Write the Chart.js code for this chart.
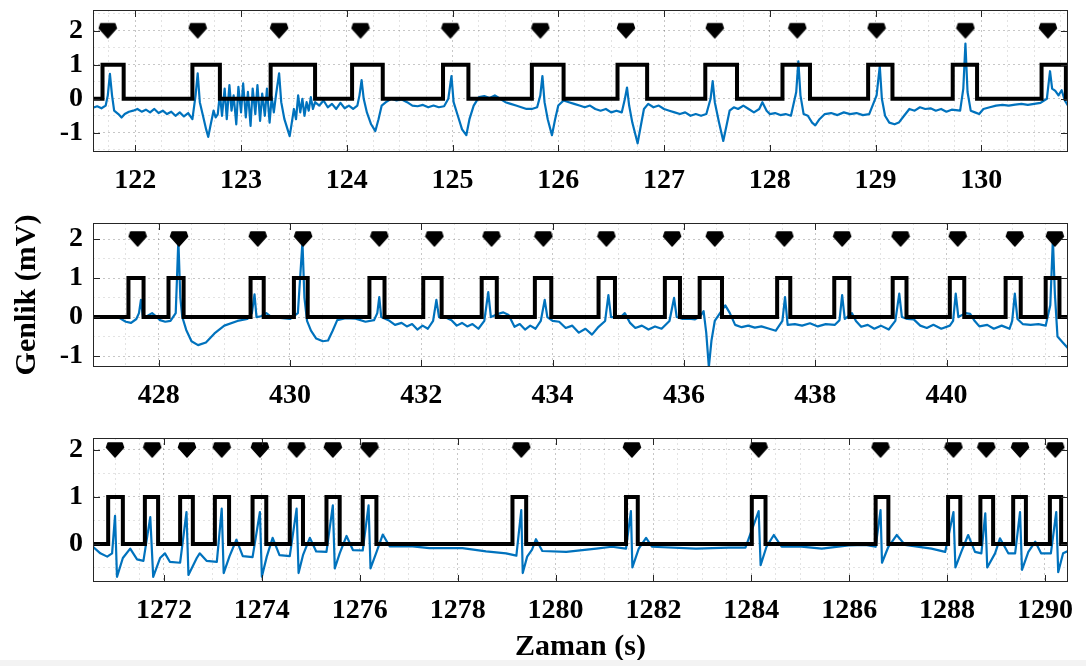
<!DOCTYPE html>
<html>
<head>
<meta charset="utf-8">
<script src="https://cdn.jsdelivr.net/npm/chart.js@4.4.1/dist/chart.umd.min.js"></script>
<style>
html,body{margin:0;padding:0;background:#fff;width:1086px;height:666px;overflow:hidden;position:relative}
canvas{position:absolute;left:0}
#strip{position:absolute;left:0;top:660px;width:1086px;height:6px;background:#f3f3f3}
</style>
</head>
<body>
<canvas id="c1" width="1086" height="205" style="top:0px"></canvas>
<canvas id="c2" width="1086" height="215" style="top:205px"></canvas>
<canvas id="c3" width="1086" height="246" style="top:420px"></canvas>
<div id="strip"></div>
<script>
// ---------------- DATA ----------------
// Panel 1 (122-130 s)
const p1Range = [121.6, 130.82];
const p1YRange = [-1.565, 2.61];
const p1XTicks = [122, 123, 124, 125, 126, 127, 128, 129, 130];
const p1YTicks = [-1, 0, 1, 2];
const p1Markers = [121.74, 122.59, 123.36, 124.13, 124.98, 125.83, 126.64, 127.48, 128.26, 129.01, 129.85, 130.63];
const p1Rise = [121.69, 122.54, 123.28, 124.05, 124.91, 125.75, 126.56, 127.39, 128.12, 128.93, 129.73, 130.57];
const p1Fall = [121.89, 122.80, 123.70, 124.34, 125.15, 126.05, 126.84, 127.69, 128.38, 129.16, 129.96, 130.80];
const p1Ecg = [
[121.60,-0.26],[121.64,-0.22],[121.68,-0.28],[121.72,-0.20],[121.74,0.10],[121.76,0.73],[121.78,0.10],[121.80,-0.35],
[121.84,-0.45],[121.87,-0.55],[121.90,-0.45],[121.94,-0.38],[121.98,-0.35],[122.02,-0.30],[122.06,-0.38],[122.10,-0.32],
[122.14,-0.40],[122.18,-0.30],[122.22,-0.42],[122.26,-0.35],[122.30,-0.45],[122.34,-0.38],[122.38,-0.50],[122.42,-0.40],
[122.46,-0.52],[122.50,-0.42],[122.54,-0.60],[122.57,0.10],[122.59,0.75],[122.61,-0.10],[122.64,-0.50],[122.67,-0.90],
[122.69,-1.12],[122.71,-0.80],[122.74,-0.35],[122.76,-0.55],[122.78,-0.45],[122.80,0.15],[122.82,-0.50],[122.845,0.30],
[122.865,-0.60],[122.89,0.40],[122.91,-0.35],[122.93,0.10],[122.955,-0.75],[122.975,0.35],[123.00,-0.40],[123.02,0.45],
[123.045,-0.55],[123.065,0.20],[123.09,-0.80],[123.11,0.30],[123.135,-0.45],[123.155,0.40],[123.18,-0.65],[123.20,0.15],
[123.225,-0.50],[123.245,0.30],[123.27,-0.70],[123.29,0.05],[123.31,-0.40],[123.33,0.10],
[123.36,0.75],[123.38,-0.10],[123.41,-0.60],[123.44,-0.90],[123.46,-1.10],[123.48,-0.70],[123.50,-0.30],[123.52,-0.60],
[123.54,0.10],[123.56,-0.40],[123.58,0.00],[123.60,-0.50],[123.62,-0.10],[123.64,-0.35],[123.66,0.05],[123.68,-0.30],
[123.70,-0.10],[123.74,-0.20],[123.78,-0.05],[123.82,-0.25],[123.86,-0.15],[123.90,-0.30],[123.94,-0.12],[123.98,-0.28],
[124.02,-0.20],[124.06,-0.30],[124.10,-0.20],[124.12,0.10],[124.14,0.55],[124.16,0.00],[124.19,-0.40],[124.23,-0.75],
[124.27,-0.95],[124.30,-0.60],[124.33,-0.20],[124.37,-0.10],[124.42,0.00],[124.47,-0.05],[124.52,-0.02],[124.57,-0.10],
[124.62,-0.20],[124.67,-0.22],[124.72,-0.18],[124.77,-0.25],[124.82,-0.20],[124.87,-0.25],[124.92,-0.22],[124.96,0.00],
[124.99,0.67],[125.01,-0.10],[125.05,-0.50],[125.09,-0.90],[125.13,-1.07],[125.16,-0.60],[125.20,-0.20],[125.25,0.05],
[125.30,0.08],[125.35,0.02],[125.40,0.10],[125.45,0.00],[125.50,-0.10],[125.55,-0.15],[125.60,-0.20],[125.65,-0.25],
[125.70,-0.30],[125.75,-0.30],[125.80,-0.25],[125.83,0.10],[125.85,0.67],[125.87,-0.10],[125.90,-0.60],[125.94,-1.07],
[125.97,-0.60],[126.00,-0.20],[126.05,-0.05],[126.10,-0.10],[126.15,-0.15],[126.20,-0.20],[126.25,-0.25],[126.30,-0.20],
[126.35,-0.30],[126.40,-0.35],[126.45,-0.30],[126.50,-0.40],[126.55,-0.35],[126.60,-0.40],[126.63,0.00],[126.65,0.33],
[126.67,-0.20],[126.70,-0.70],[126.75,-1.31],[126.78,-0.80],[126.81,-0.30],[126.85,-0.15],[126.90,-0.25],[126.95,-0.20],
[127.00,-0.30],[127.05,-0.35],[127.10,-0.40],[127.15,-0.45],[127.20,-0.40],[127.25,-0.50],[127.30,-0.45],[127.35,-0.50],
[127.40,-0.45],[127.44,0.00],[127.46,0.52],[127.48,-0.10],[127.52,-0.70],[127.56,-1.24],[127.59,-0.80],[127.62,-0.35],
[127.66,-0.25],[127.70,-0.30],[127.75,-0.20],[127.80,-0.30],[127.85,-0.40],[127.90,-0.30],[127.93,-0.10],[127.97,-0.35],
[128.00,-0.45],[128.05,-0.42],[128.10,-0.48],[128.15,-0.45],[128.20,-0.50],[128.25,0.20],[128.27,1.10],[128.29,0.10],
[128.32,-0.45],[128.36,-0.50],[128.40,-0.70],[128.43,-0.78],[128.47,-0.60],[128.52,-0.45],[128.58,-0.42],[128.64,-0.48],
[128.70,-0.40],[128.76,-0.45],[128.82,-0.42],[128.88,-0.48],[128.94,-0.45],[129.01,0.10],[129.04,0.96],[129.06,0.00],
[129.09,-0.50],[129.13,-0.70],[129.18,-0.75],[129.22,-0.70],[129.27,-0.50],[129.32,-0.30],[129.37,-0.35],[129.42,-0.25],
[129.47,-0.30],[129.52,-0.28],[129.57,-0.35],[129.62,-0.30],[129.67,-0.38],[129.72,-0.32],[129.80,-0.35],[129.83,0.30],
[129.85,1.62],[129.87,0.20],[129.90,-0.35],[129.94,-0.40],[129.98,-0.45],[130.02,-0.30],[130.08,-0.25],[130.14,-0.20],
[130.20,-0.18],[130.26,-0.20],[130.32,-0.17],[130.38,-0.15],[130.44,-0.18],[130.50,-0.15],[130.56,-0.12],[130.62,0.00],
[130.65,0.81],[130.67,0.30],[130.70,0.23],[130.73,0.10],[130.76,0.25],[130.79,-0.05],[130.82,-0.20]
];

// Panel 2 (428-440 s)
const p2Range = [427.0, 441.85];
const p2YRange = [-1.28, 2.41];
const p2XTicks = [428, 430, 432, 434, 436, 438, 440];
const p2YTicks = [-1, 0, 1, 2];
const p2Markers = [427.68, 428.31, 429.51, 430.20, 431.36, 432.20, 433.07, 433.86, 434.82, 435.82, 436.47, 437.53, 438.41, 439.30, 440.17, 441.04, 441.65];
const p2Rise = [427.54, 428.15, 429.40, 430.06, 431.21, 432.03, 432.92, 433.73, 434.70, 435.71, 436.24, 437.42, 438.29, 439.18, 440.05, 440.90, 441.51];
const p2Fall = [427.77, 428.38, 429.60, 430.27, 431.44, 432.31, 433.15, 433.98, 434.95, 435.94, 436.58, 437.62, 438.52, 439.39, 440.27, 441.13, 441.72];
const p2Ecg = [
[427.00,0.00],[427.20,0.00],[427.40,-0.02],[427.50,-0.12],[427.58,-0.15],[427.66,-0.05],[427.70,0.10],[427.73,0.44],
[427.76,0.00],[427.82,0.02],[427.90,0.10],[427.96,0.02],[428.02,-0.08],[428.10,-0.12],[428.18,-0.10],[428.26,0.10],
[428.30,1.97],[428.33,0.50],[428.36,0.00],[428.42,-0.33],[428.50,-0.62],[428.60,-0.72],[428.72,-0.65],[428.85,-0.42],
[429.00,-0.22],[429.20,-0.10],[429.35,-0.05],[429.42,0.10],[429.46,0.58],[429.49,0.00],[429.56,0.02],[429.64,0.10],
[429.72,0.00],[429.85,-0.02],[430.00,-0.05],[430.12,0.10],[430.19,1.92],[430.22,0.50],[430.26,-0.10],[430.32,-0.35],
[430.40,-0.55],[430.50,-0.62],[430.58,-0.60],[430.65,-0.35],[430.72,-0.08],[430.85,-0.03],[431.00,-0.04],[431.15,-0.12],
[431.28,-0.08],[431.33,0.10],[431.36,0.51],[431.39,0.00],[431.50,-0.08],[431.60,-0.20],[431.70,-0.15],[431.78,-0.24],
[431.86,-0.18],[431.94,-0.32],[432.02,-0.22],[432.10,-0.30],[432.18,-0.10],[432.23,0.44],[432.27,0.00],[432.38,-0.02],
[432.46,-0.08],[432.54,-0.22],[432.62,-0.15],[432.70,-0.24],[432.78,-0.18],[432.87,-0.30],[432.96,-0.10],[433.02,0.64],
[433.06,0.00],[433.17,0.08],[433.25,0.12],[433.33,0.05],[433.42,-0.25],[433.50,-0.18],[433.58,-0.32],[433.66,-0.22],
[433.74,-0.30],[433.82,-0.10],[433.88,0.44],[433.92,0.00],[434.00,-0.10],[434.10,-0.12],[434.20,-0.28],[434.30,-0.22],
[434.40,-0.40],[434.50,-0.30],[434.60,-0.45],[434.70,-0.25],[434.80,-0.10],[434.85,0.56],[434.89,0.00],[434.97,0.00],
[435.05,0.02],[435.10,0.10],[435.18,-0.15],[435.26,-0.28],[435.36,-0.22],[435.46,-0.32],[435.56,-0.24],[435.66,-0.30],
[435.78,-0.10],[435.85,0.49],[435.89,0.00],[435.98,-0.05],[436.08,-0.04],[436.17,-0.06],[436.25,0.02],[436.30,0.15],
[436.34,-0.40],[436.38,-1.28],[436.42,-0.60],[436.47,-0.10],[436.55,0.10],[436.63,0.30],[436.70,0.10],[436.78,-0.20],
[436.88,-0.26],[436.98,-0.22],[437.08,-0.27],[437.18,-0.24],[437.30,-0.30],[437.40,-0.35],[437.50,-0.10],[437.54,0.51],
[437.58,-0.20],[437.69,-0.18],[437.80,-0.22],[437.92,-0.16],[438.04,-0.24],[438.16,-0.18],[438.30,-0.20],[438.37,-0.08],
[438.41,0.56],[438.45,-0.05],[438.56,0.10],[438.62,-0.10],[438.70,-0.25],[438.80,-0.20],[438.90,-0.30],[439.00,-0.22],
[439.12,-0.32],[439.22,-0.10],[439.28,0.60],[439.32,0.00],[439.40,-0.05],[439.50,-0.06],[439.60,-0.22],[439.70,-0.28],
[439.80,-0.20],[439.92,-0.30],[440.05,-0.22],[440.10,-0.10],[440.14,0.60],[440.18,0.00],[440.29,0.10],[440.36,0.08],
[440.42,-0.08],[440.50,-0.24],[440.62,-0.20],[440.72,-0.30],[440.84,-0.22],[440.96,-0.30],[441.00,-0.10],[441.04,0.60],
[441.08,-0.05],[441.16,-0.18],[441.28,-0.20],[441.40,-0.18],[441.51,-0.22],[441.58,0.30],[441.62,2.00],[441.65,0.60],
[441.69,-0.50],[441.77,-0.65],[441.85,-0.80]
];

// Panel 3 (1272-1290 s)
const p3Range = [1270.55, 1290.47];
const p3YRange = [-0.81, 2.255];
const p3XTicks = [1272, 1274, 1276, 1278, 1280, 1282, 1284, 1286, 1288, 1290];
const p3YTicks = [0, 1, 2];
const p3Markers = [1271.00, 1271.76, 1272.47, 1273.18, 1273.96, 1274.71, 1275.45, 1276.20, 1279.30, 1281.56, 1284.15, 1286.64, 1288.13, 1288.80, 1289.49, 1290.21];
const p3Rise = [1270.86, 1271.61, 1272.33, 1273.04, 1273.81, 1274.57, 1275.32, 1276.06, 1279.12, 1281.44, 1284.01, 1286.54, 1288.02, 1288.68, 1289.35, 1290.10];
const p3Fall = [1271.16, 1271.88, 1272.59, 1273.33, 1274.09, 1274.84, 1275.59, 1276.34, 1279.40, 1281.68, 1284.29, 1286.80, 1288.27, 1288.94, 1289.61, 1290.33];
const p3Ecg = [
[1270.55,-0.06],[1270.70,-0.20],[1270.84,-0.27],[1270.94,-0.20],[1271.00,0.60],[1271.04,-0.70],[1271.16,-0.30],[1271.31,-0.10],
[1271.45,-0.33],[1271.58,-0.36],[1271.72,0.57],[1271.78,-0.70],[1271.92,-0.30],[1272.02,-0.20],[1272.12,-0.38],[1272.33,-0.40],
[1272.46,0.68],[1272.50,-0.66],[1272.67,-0.30],[1272.73,-0.20],[1272.87,-0.36],[1273.08,-0.38],[1273.18,0.75],[1273.22,-0.62],
[1273.34,-0.26],[1273.48,0.09],[1273.61,-0.26],[1273.81,-0.28],[1273.96,0.68],[1274.00,-0.70],[1274.10,-0.27],[1274.22,0.13],
[1274.36,-0.24],[1274.57,-0.26],[1274.71,0.75],[1274.75,-0.62],[1274.84,-0.24],[1274.98,0.13],[1275.11,-0.16],[1275.32,-0.17],
[1275.45,0.82],[1275.49,-0.52],[1275.59,-0.20],[1275.73,0.17],[1275.86,-0.13],[1276.06,-0.14],[1276.18,0.82],[1276.22,-0.52],
[1276.34,-0.18],[1276.47,0.20],[1276.61,-0.05],[1277.08,-0.05],[1277.42,-0.09],[1278.10,-0.09],[1278.58,-0.16],[1278.99,-0.20],
[1279.20,-0.25],[1279.30,0.72],[1279.33,-0.62],[1279.42,-0.27],[1279.52,-0.12],[1279.60,0.10],[1279.73,-0.15],[1280.22,-0.17],
[1280.83,-0.10],[1281.15,-0.06],[1281.44,-0.10],[1281.54,0.70],[1281.57,-0.50],[1281.70,-0.10],[1281.85,0.13],[1281.97,-0.06],
[1282.87,-0.10],[1283.54,-0.08],[1283.88,-0.08],[1284.15,0.70],[1284.19,-0.45],[1284.31,-0.06],[1284.46,0.19],[1284.62,-0.06],
[1284.97,-0.05],[1285.44,-0.10],[1285.99,-0.03],[1286.33,-0.02],[1286.54,-0.06],[1286.64,0.72],[1286.67,-0.40],[1286.80,-0.06],
[1286.97,0.19],[1287.14,-0.02],[1287.68,-0.10],[1287.96,-0.17],[1288.13,0.68],[1288.17,-0.50],[1288.29,-0.17],[1288.43,0.19],
[1288.57,-0.17],[1288.70,-0.20],[1288.78,0.65],[1288.82,-0.50],[1288.98,-0.20],[1289.08,0.12],[1289.25,-0.20],[1289.39,-0.20],
[1289.49,0.68],[1289.53,-0.55],[1289.66,-0.17],[1289.80,0.05],[1289.92,-0.20],[1290.12,-0.20],[1290.23,0.68],[1290.27,-0.60],
[1290.37,-0.20],[1290.47,-0.15]
];

const yTitle = 'Genlik (mV)';
const xTitle = 'Zaman (s)';

// ---------------- RENDERING ----------------
const FONT = 'Liberation Serif';
const BLUE = '#0072BD';

// downward pentagon marker
const marker = document.createElement('canvas');
marker.width = 20; marker.height = 18;
(function(){
  const g = marker.getContext('2d');
  g.fillStyle = '#000'; g.strokeStyle = '#000'; g.lineWidth = 1.5; g.lineJoin = 'round';
  g.beginPath();
  g.moveTo(3,2); g.lineTo(17,2); g.lineTo(18.5,6.5); g.lineTo(10,16); g.lineTo(1.5,6.5); g.closePath();
  g.fill(); g.stroke();
})();

function buildTicks(min, max, step) {
  const out = [];
  const start = Math.ceil(min / step - 1e-9);
  for (let i = start; i * step <= max + 1e-9; i++) {
    out.push({ value: Math.round(i * step * 1000) / 1000 });
  }
  return out;
}
function isIn(list, v) { return list.some(m => Math.abs(m - v) < 1e-6); }

function square(rise, fall, r) {
  const pts = [{ x: r[0], y: 0 }];
  for (let i = 0; i < rise.length; i++) {
    pts.push({ x: rise[i], y: 0 }, { x: rise[i], y: 1 }, { x: fall[i], y: 1 }, { x: fall[i], y: 0 });
  }
  pts.push({ x: r[1], y: 0 });
  return pts;
}

const framePlugin = {
  id: 'frame',
  afterDraw(chart, args, opts) {
    const { ctx, chartArea: a } = chart;
    const xs = chart.scales.x, ys = chart.scales.y;
    ctx.save();
    ctx.strokeStyle = '#262626';
    ctx.lineWidth = 1;
    ctx.beginPath();
    const L = 7;
    opts.xMajor.forEach(v => {
      const p = Math.round(xs.getPixelForValue(v)) + 0.5;
      ctx.moveTo(p, a.bottom); ctx.lineTo(p, a.bottom - L);
      ctx.moveTo(p, a.top); ctx.lineTo(p, a.top + L);
    });
    opts.yMajor.forEach(v => {
      const p = Math.round(ys.getPixelForValue(v)) + 0.5;
      ctx.moveTo(a.left, p); ctx.lineTo(a.left + L, p);
      ctx.moveTo(a.right, p); ctx.lineTo(a.right - L, p);
    });
    ctx.stroke();
    ctx.strokeRect(Math.round(a.left) + 0.5, Math.round(a.top) + 0.5, Math.round(a.right - a.left) - 1, Math.round(a.bottom - a.top) - 1);
    ctx.restore();
  }
};

function makePanel(id, cfg) {
  const tickFont = { family: FONT, size: 28, weight: 'bold' };
  const titleFont = { family: FONT, size: 30, weight: 'bold' };
  const gridColor = (major) => (c) => (c.tick && isIn(major, c.tick.value)) ? 'rgba(0,0,0,0.22)' : 'rgba(0,0,0,0.11)';
  new Chart(document.getElementById(id), {
    type: 'line',
    data: {
      datasets: [
        { data: cfg.markers.map(t => ({ x: t, y: 2 })), showLine: false, pointStyle: marker, pointRadius: 9, pointHoverRadius: 9, order: 0, clip: false },
        { data: square(cfg.rise, cfg.fall, cfg.range), borderColor: '#000', borderWidth: 4, pointRadius: 0, tension: 0, borderJoinStyle: 'miter', order: 1 },
        { data: cfg.ecg.map(p => ({ x: p[0], y: p[1] })), borderColor: BLUE, borderWidth: 2.2, pointRadius: 0, tension: 0, borderJoinStyle: 'round', order: 2 }
      ]
    },
    options: {
      responsive: false,
      animation: false,
      events: [],
      layout: { padding: { top: cfg.padTop, right: 18, left: 0, bottom: 0 } },
      plugins: { legend: { display: false }, tooltip: { enabled: false }, frame: { xMajor: cfg.xTicks, yMajor: cfg.yTicks } },
      scales: {
        x: {
          type: 'linear', min: cfg.range[0], max: cfg.range[1],
          afterBuildTicks: s => { s.ticks = buildTicks(cfg.range[0], cfg.range[1], cfg.xMinor); },
          afterFit: s => { s.height = cfg.xHeight; s.paddingLeft = 0; s.paddingRight = 0; },
          ticks: { autoSkip: false, maxRotation: 0, padding: 12, font: tickFont, color: '#000',
                   callback: v => isIn(cfg.xTicks, v) ? String(Math.round(v)) : '' },
          grid: { drawTicks: false, color: gridColor(cfg.xTicks), lineWidth: 1 },
          border: { display: false, dash: [2, 3] },
          title: cfg.xTitle ? { display: true, text: cfg.xTitle, font: titleFont, color: '#000', padding: { top: 0, bottom: 1 } } : { display: false }
        },
        y: {
          type: 'linear', min: cfg.yRange[0], max: cfg.yRange[1],
          afterBuildTicks: s => { s.ticks = buildTicks(cfg.yRange[0], cfg.yRange[1], 0.5); },
          afterFit: s => { s.width = 93; s.paddingTop = 0; s.paddingBottom = 0; },
          ticks: { autoSkip: false, padding: 10, font: tickFont, color: '#000',
                   callback: v => isIn(cfg.yTicks, v) ? String(Math.round(v)) : '' },
          grid: { drawTicks: false, color: gridColor(cfg.yTicks), lineWidth: 1 },
          border: { display: false, dash: [2, 3] },
          title: cfg.yTitle ? { display: true, text: cfg.yTitle, font: titleFont, color: '#000', padding: { top: 9, bottom: 0 } } : { display: false }
        }
      }
    },
    plugins: [framePlugin]
  });
}

makePanel('c1', { range: p1Range, yRange: p1YRange, xTicks: p1XTicks, yTicks: p1YTicks, xMinor: 0.25,
  markers: p1Markers, rise: p1Rise, fall: p1Fall, ecg: p1Ecg, padTop: 8, xHeight: 53 });
makePanel('c2', { range: p2Range, yRange: p2YRange, xTicks: p2XTicks, yTicks: p2YTicks, xMinor: 0.5,
  markers: p2Markers, rise: p2Rise, fall: p2Fall, ecg: p2Ecg, padTop: 18, xHeight: 53, yTitle: yTitle });
makePanel('c3', { range: p3Range, yRange: p3YRange, xTicks: p3XTicks, yTicks: p3YTicks, xMinor: 0.5,
  markers: p3Markers, rise: p3Rise, fall: p3Fall, ecg: p3Ecg, padTop: 18, xHeight: 84, xTitle: xTitle });
</script>
</body>
</html>
